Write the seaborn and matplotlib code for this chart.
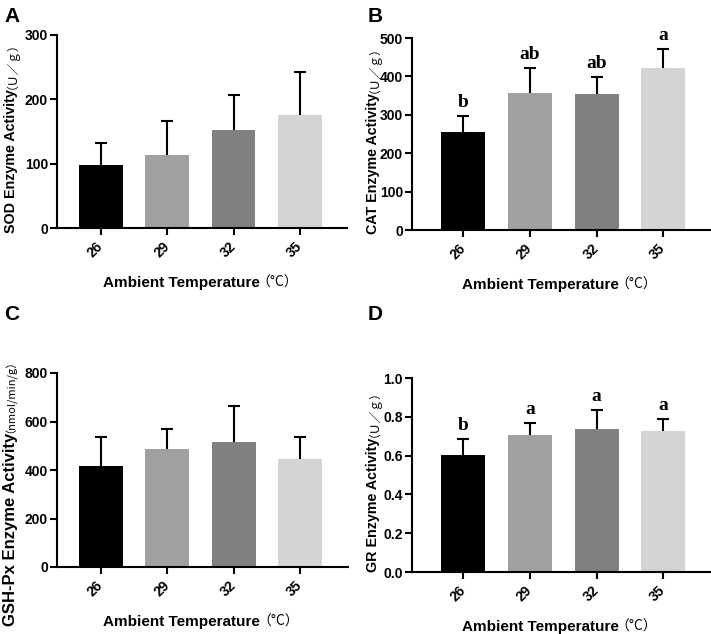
import matplotlib
matplotlib.use("Agg")
import matplotlib.pyplot as plt
import seaborn as sns
import pandas as pd
import numpy as np

# values (bar = mean, whisker = mean + SD)
temps = ["26", "29", "32", "35"]
bar_colors = ["#000000", "#a0a0a0", "#808080", "#d4d4d4"]

sod_mean = [97.4, 113.5, 151.8, 175.6]
sod_sd = [34.2, 52.3, 54.2, 67.4]
sod_ticks = [0, 100, 200, 300]

cat_mean = [254, 358, 353, 421.7]
cat_sd = [42.5, 64.6, 45, 49.3]
cat_letters = ["b", "ab", "ab", "a"]
cat_ticks = [0, 100, 200, 300, 400, 500]

gsh_mean = [415, 485.5, 517, 447]
gsh_sd = [120, 84.5, 146, 89.5]
gsh_ticks = [0, 200, 400, 600, 800]

gr_mean = [0.604, 0.705, 0.736, 0.729]
gr_sd = [0.081, 0.064, 0.098, 0.062]
gr_letters = ["b", "a", "a", "a"]
gr_ticks = [0.0, 0.2, 0.4, 0.6, 0.8, 1.0]

x_main = "Ambient Temperature"
x_unit = "（°C）"

W, H = 711, 634
CJK = ["Noto Sans CJK SC", "DejaVu Sans"]

sns.set_style("ticks")
plt.rcParams['font.family'] = ['Liberation Sans', 'Noto Sans CJK SC', 'DejaVu Sans']
plt.rcParams['text.color'] = 'black'
plt.rcParams['axes.labelcolor'] = 'black'
plt.rcParams['axes.edgecolor'] = 'black'
plt.rcParams['xtick.color'] = 'black'
plt.rcParams['ytick.color'] = 'black'
plt.rcParams['axes.linewidth'] = 1.5

fig = plt.figure(figsize=(W / 100, H / 100), dpi=100)
renderer = fig.canvas.get_renderer()

# tag, mean, sd, letters, ticks, tick format, ylabel, unit, box (l, t, r, b px), xlim,
# label x offset, label y shift, main size, unit size
panels = [
    ("A", sod_mean, sod_sd, None, sod_ticks, "{:.0f}", "SOD Enzyme Activity", "（Ｕ／ｇ）",
     (57, 35, 347, 228), (-0.66, 3.71), -42, 0, 10.3, 8.5),
    ("B", cat_mean, cat_sd, cat_letters, cat_ticks, "{:.0f}", "CAT Enzyme Activity", "（Ｕ／ｇ）",
     (412, 38, 710, 230), (-0.765, 3.70), -35, 0, 10.3, 8.5),
    ("C", gsh_mean, gsh_sd, None, gsh_ticks, "{:.0f}", "GSH-Px Enzyme Activity", "（nmol/min/g）",
     (57, 373, 348, 567), (-0.66, 3.72), -42, -17, 12, 8),
    ("D", gr_mean, gr_sd, gr_letters, gr_ticks, "{:.1f}", "GR Enzyme Activity", "（Ｕ／ｇ）",
     (412, 378, 710, 572), (-0.765, 3.70), -35, 0, 10.3, 8.5),
]


def split_label(ax, main, unit, axis, offset, main_size, unit_size, shift=0):
    box = ax.get_window_extent(renderer)
    if axis == "y":
        t1 = fig.text(0, 0, main, rotation=90, rotation_mode="anchor", ha="center",
                      va="baseline", fontsize=main_size, fontweight="bold")
        t2 = fig.text(0, 0, unit, rotation=90, ha="center",
                      va="center", fontsize=unit_size, family=CJK)
        l1 = t1.get_window_extent(renderer).height
        l2 = t2.get_window_extent(renderer).height
        start = (box.y0 + box.y1) / 2 - (l1 + l2) / 2 + shift
        x = box.x0 + offset
        t1.set_position((x / W, (start + l1 / 2) / H))
        e1 = t1.get_window_extent(renderer)
        t2.set_position((((e1.x0 + e1.x1) / 2 - 5) / W, (start + l1 + l2 / 2) / H))
    else:
        t1 = fig.text(0, 0, main, ha="center", va="baseline",
                      fontsize=main_size, fontweight="bold")
        t2 = fig.text(0, 0, unit, ha="center", va="baseline",
                      fontsize=unit_size, family=CJK)
        l1 = t1.get_window_extent(renderer).width
        l2 = t2.get_window_extent(renderer).width
        start = (box.x0 + box.x1) / 2 - (l1 + l2) / 2
        y = box.y0 + offset
        t1.set_position(((start + l1 / 2) / W, y / H))
        t2.set_position(((start + l1 - 3 + l2 / 2) / W, y / H))


for tag, mean, sd, letters, ticks, fmt, ylab, unit, px, xlim, yoff, yshift, ysize, usize in panels:
    l, t, r, b = px
    ax = fig.add_axes([l / W, 1 - b / H, (r - l) / W, (b - t) / H])
    df = pd.DataFrame({"temp": temps, "value": mean})
    sns.barplot(data=df, x="temp", y="value", hue="temp", order=temps, hue_order=temps,
                palette=bar_colors, saturation=1, width=0.66, linewidth=0,
                errorbar=None, legend=False, ax=ax)
    xs = list(range(len(temps)))
    eb = ax.errorbar(xs, mean, yerr=[[0] * len(sd), sd], fmt="none", ecolor="black",
                     elinewidth=1.5, capsize=4.3, capthick=1.5, zorder=3)
    # only the upper whisker gets a cap
    for cap in eb.lines[1]:
        if np.allclose(cap.get_ydata(), mean):
            cap.set_visible(False)
    if letters:
        for xi, m, s, lab in zip(xs, mean, sd, letters):
            ax.annotate(lab, (xi, m + s), xytext=(0, 6.5), textcoords="offset points",
                        ha="center", va="baseline", fontsize=14, fontweight="bold",
                        family="Liberation Serif")
    ax.set_xlim(*xlim)
    ax.set_ylim(ticks[0], ticks[-1])
    ax.set_yticks(ticks)
    ax.set_yticklabels([fmt.format(v) for v in ticks])
    ax.set_xlabel("")
    ax.set_ylabel("")
    sns.despine(ax=ax)
    ax.tick_params(axis="both", width=1.5, length=5, labelsize=10)
    ax.tick_params(axis="y", pad=1.5)
    ax.tick_params(axis="x", pad=7)
    for lab in ax.get_yticklabels():
        lab.set_fontweight("bold")
    for lab in ax.get_xticklabels():
        lab.set_fontweight("bold")
        lab.set_rotation(45)
        lab.set_ha("right")
        lab.set_va("center")
        lab.set_rotation_mode("anchor")

    split_label(ax, ylab, unit, "y", yoff, ysize, usize, yshift)
    split_label(ax, x_main, x_unit, "x", -59, 11, 10)

    tag_x = 4 if l < 300 else 368
    tag_base = 22 if t < 300 else 320
    fig.text(tag_x / W, 1 - tag_base / H, tag, fontsize=15, fontweight="bold", va="baseline")

fig.savefig("out.png", dpi=100)
